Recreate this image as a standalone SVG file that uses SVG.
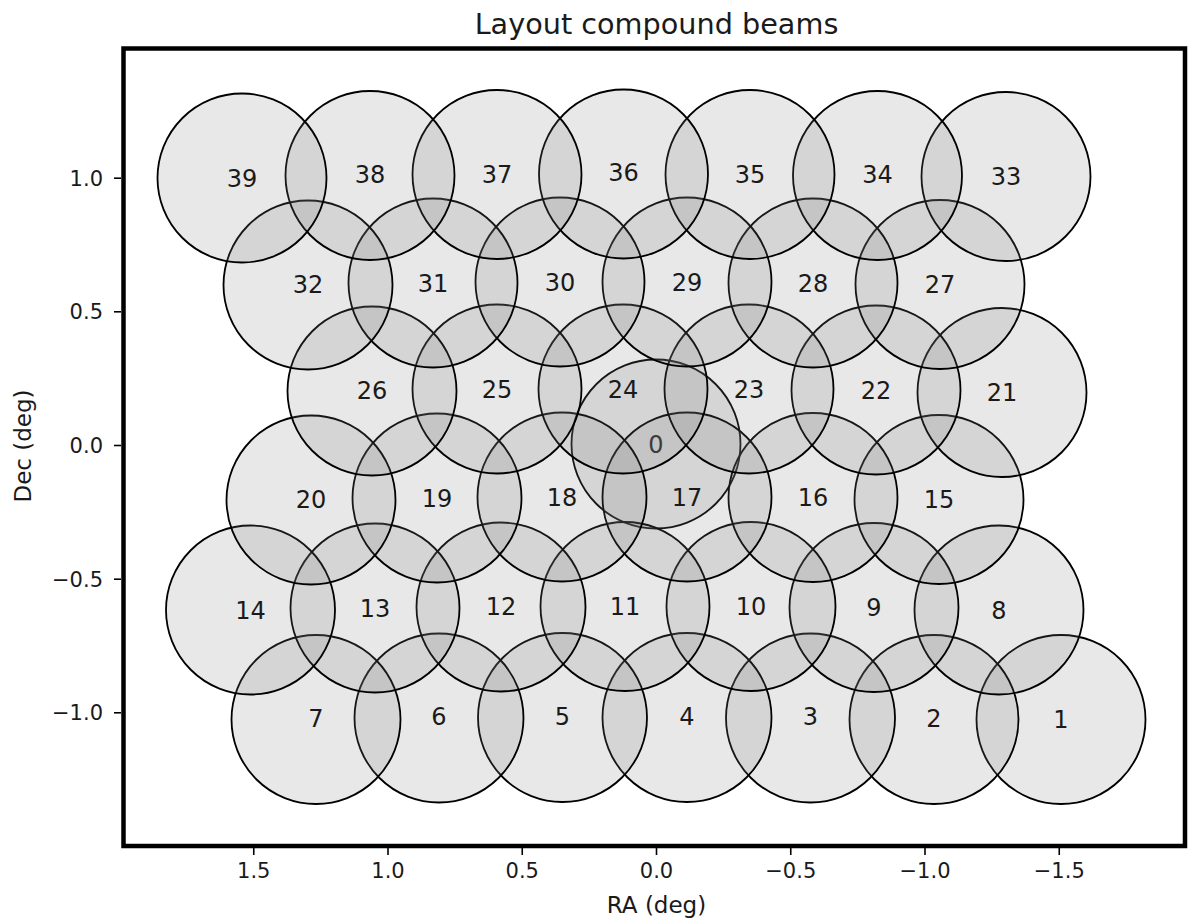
<svg xmlns="http://www.w3.org/2000/svg" width="1200" height="924" viewBox="0 0 1200 924">
<style>
.beam circle{fill:#808080;fill-opacity:0.18;stroke:#000;stroke-width:1.8}
.beam text{font-family:"DejaVu Sans",sans-serif;font-size:24px;fill:#1a1a1a;text-anchor:middle}
.tick{stroke:#000;stroke-width:1.6}
.tl{font-family:"DejaVu Sans",sans-serif;font-size:21px;fill:#1a1a1a}
.al{font-family:"DejaVu Sans",sans-serif;font-size:23px;fill:#1a1a1a;text-anchor:middle}
</style>
<rect width="1200" height="924" fill="#fff"/>
<g id="beams">
<g id="b0" class="beam"><circle cx="656" cy="444" r="84.5"/><text x="656" y="452.7">0</text></g>
<g id="b1" class="beam"><circle cx="1061" cy="719.5" r="84.5"/><text x="1061" y="728.2">1</text></g>
<g id="b2" class="beam"><circle cx="934" cy="719.5" r="84.5"/><text x="934" y="726.7">2</text></g>
<g id="b3" class="beam"><circle cx="810.5" cy="718" r="84.5"/><text x="810.5" y="725">3</text></g>
<g id="b4" class="beam"><circle cx="687" cy="717.5" r="84.5"/><text x="687" y="725">4</text></g>
<g id="b5" class="beam"><circle cx="562.5" cy="717.5" r="84.5"/><text x="562.5" y="725">5</text></g>
<g id="b6" class="beam"><circle cx="439" cy="718" r="84.5"/><text x="439" y="725">6</text></g>
<g id="b7" class="beam"><circle cx="316" cy="719.5" r="84.5"/><text x="316" y="726.5">7</text></g>
<g id="b8" class="beam"><circle cx="999" cy="610" r="84.5"/><text x="999" y="618.7">8</text></g>
<g id="b9" class="beam"><circle cx="874" cy="607.5" r="84.5"/><text x="874" y="615.7">9</text></g>
<g id="b10" class="beam"><circle cx="751" cy="606.5" r="84.5"/><text x="751" y="614.7">10</text></g>
<g id="b11" class="beam"><circle cx="625" cy="606.5" r="84.5"/><text x="625" y="614.7">11</text></g>
<g id="b12" class="beam"><circle cx="501" cy="607" r="84.5"/><text x="501" y="615">12</text></g>
<g id="b13" class="beam"><circle cx="375" cy="608" r="84.5"/><text x="375" y="616.7">13</text></g>
<g id="b14" class="beam"><circle cx="250.5" cy="610" r="84.5"/><text x="250.5" y="618.7">14</text></g>
<g id="b15" class="beam"><circle cx="939" cy="499.5" r="84.5"/><text x="939" y="507.7">15</text></g>
<g id="b16" class="beam"><circle cx="813" cy="497.5" r="84.5"/><text x="813" y="505.7">16</text></g>
<g id="b17" class="beam"><circle cx="687" cy="497" r="84.5"/><text x="687" y="505.7">17</text></g>
<g id="b18" class="beam"><circle cx="562" cy="497" r="84.5"/><text x="562" y="505.7">18</text></g>
<g id="b19" class="beam"><circle cx="437" cy="498" r="84.5"/><text x="437" y="506.7">19</text></g>
<g id="b20" class="beam"><circle cx="311" cy="500" r="84.5"/><text x="311" y="508.2">20</text></g>
<g id="b21" class="beam"><circle cx="1002" cy="392.5" r="84.5"/><text x="1002" y="401.2">21</text></g>
<g id="b22" class="beam"><circle cx="876" cy="390" r="84.5"/><text x="876" y="398.7">22</text></g>
<g id="b23" class="beam"><circle cx="749" cy="389" r="84.5"/><text x="749" y="397.7">23</text></g>
<g id="b24" class="beam"><circle cx="623" cy="389" r="84.5"/><text x="623" y="397.7">24</text></g>
<g id="b25" class="beam"><circle cx="497" cy="389" r="84.5"/><text x="497" y="397.7">25</text></g>
<g id="b26" class="beam"><circle cx="372" cy="391" r="84.5"/><text x="372" y="399.2">26</text></g>
<g id="b27" class="beam"><circle cx="940" cy="284.5" r="84.5"/><text x="940" y="292.7">27</text></g>
<g id="b28" class="beam"><circle cx="813" cy="283" r="84.5"/><text x="813" y="291.7">28</text></g>
<g id="b29" class="beam"><circle cx="687" cy="282" r="84.5"/><text x="687" y="290.7">29</text></g>
<g id="b30" class="beam"><circle cx="560" cy="282" r="84.5"/><text x="560" y="290.7">30</text></g>
<g id="b31" class="beam"><circle cx="433" cy="283" r="84.5"/><text x="433" y="291.7">31</text></g>
<g id="b32" class="beam"><circle cx="308" cy="285" r="84.5"/><text x="308" y="293.2">32</text></g>
<g id="b33" class="beam"><circle cx="1006" cy="176.5" r="84.5"/><text x="1006" y="185">33</text></g>
<g id="b34" class="beam"><circle cx="877.5" cy="175.5" r="84.5"/><text x="877.5" y="183">34</text></g>
<g id="b35" class="beam"><circle cx="750" cy="174.5" r="84.5"/><text x="750" y="182.5">35</text></g>
<g id="b36" class="beam"><circle cx="623.5" cy="174" r="84.5"/><text x="623.5" y="181">36</text></g>
<g id="b37" class="beam"><circle cx="497" cy="174.5" r="84.5"/><text x="497" y="182.5">37</text></g>
<g id="b38" class="beam"><circle cx="370" cy="175.5" r="84.5"/><text x="370" y="183">38</text></g>
<g id="b39" class="beam"><circle cx="242" cy="178" r="84.5"/><text x="242" y="186.7">39</text></g>
</g>
<g id="connectors"></g>
<g id="axes">
<rect x="123.5" y="48.5" width="1061.5" height="797.5" fill="none" stroke="#000" stroke-width="4.5"/>
<g class="tick">
<line x1="253.75" y1="848" x2="253.75" y2="855"/>
<line x1="388" y1="848" x2="388" y2="855"/>
<line x1="522.25" y1="848" x2="522.25" y2="855"/>
<line x1="656.5" y1="848" x2="656.5" y2="855"/>
<line x1="790.75" y1="848" x2="790.75" y2="855"/>
<line x1="925" y1="848" x2="925" y2="855"/>
<line x1="1059.25" y1="848" x2="1059.25" y2="855"/>
<line x1="114" y1="178.2" x2="121" y2="178.2"/>
<line x1="114" y1="311.8" x2="121" y2="311.8"/>
<line x1="114" y1="445.5" x2="121" y2="445.5"/>
<line x1="114" y1="579.2" x2="121" y2="579.2"/>
<line x1="114" y1="712.8" x2="121" y2="712.8"/>
</g>
<g class="tl" text-anchor="middle">
<text x="253.75" y="878">1.5</text>
<text x="388" y="878">1.0</text>
<text x="522.25" y="878">0.5</text>
<text x="656.5" y="878">0.0</text>
<text x="790.75" y="878">−0.5</text>
<text x="925" y="878">−1.0</text>
<text x="1059.25" y="878">−1.5</text>
</g>
<g class="tl" text-anchor="end">
<text x="103" y="185.8">1.0</text>
<text x="103" y="319.4">0.5</text>
<text x="103" y="453.1">0.0</text>
<text x="103" y="586.8">−0.5</text>
<text x="103" y="720.4">−1.0</text>
</g>
<text class="al" x="656.5" y="913">RA (deg)</text>
<text class="al" transform="translate(30.5,446) rotate(-90)">Dec (deg)</text>
<text x="656.5" y="34" font-family="DejaVu Sans, sans-serif" font-size="28.7" fill="#1a1a1a" text-anchor="middle">Layout compound beams</text>
</g>
</svg>
